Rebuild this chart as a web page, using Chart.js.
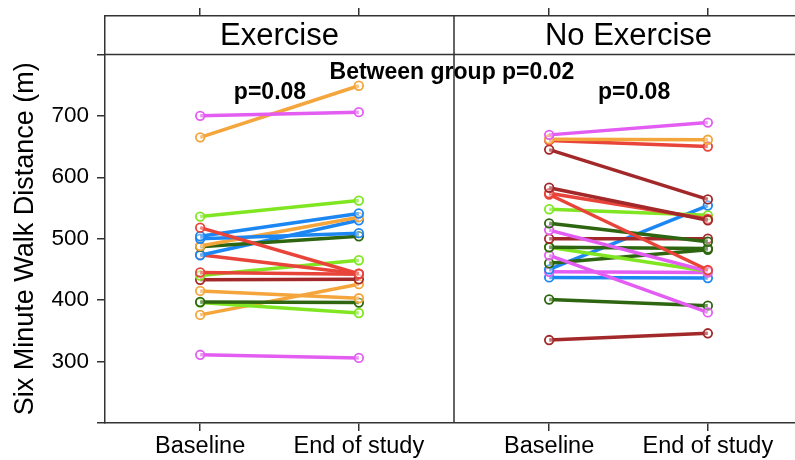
<!DOCTYPE html>
<html>
<head>
<meta charset="utf-8">
<script src="https://cdn.jsdelivr.net/npm/chart.js@4.4.1/dist/chart.umd.min.js"></script>
<style>
html, body { margin: 0; padding: 0; background: #fff; overflow: hidden; }
#wrap { width: 795px; height: 460px; overflow: hidden; }
canvas { display: block; }
</style>
</head>
<body>
<div id="wrap"><canvas id="walkChart" width="810" height="460"></canvas></div>
<script>
const timepoints = ['Baseline', 'End of study'];
const groups = ['Exercise', 'No Exercise'];
const yTitle = 'Six Minute Walk Distance (m)';

// Exercise group: one entry per subject
const exerciseBaseline = [700, 665, 536, 518, 504, 500, 488, 487, 473, 474, 445, 440, 433, 415, 397, 396, 376, 311];
const exerciseEnd      = [706, 749, 562, 443, 541, 509, 535, 504, 530, 443, 442, 465, 434, 403, 396, 379, 426, 306];
const exerciseColors   = ['M', 'O', 'L', 'R', 'B', 'B', 'O', 'G', 'B', 'R', 'R', 'L', 'D', 'O', 'G', 'L', 'O', 'M'];

// No exercise group
const noExerciseBaseline = [669, 662, 660, 645, 583, 574, 572, 548, 525, 514, 500, 486, 486, 473, 460, 450, 446, 437, 401, 335];
const noExerciseEnd      = [689, 661, 650, 564, 530, 532, 449, 538, 495, 447, 500, 484, 447, 380, 482, 554, 445, 436, 391, 346];
const noExerciseColors   = ['M', 'O', 'R', 'D', 'D', 'R', 'R', 'L', 'G', 'M', 'D', 'G', 'L', 'M', 'G', 'B', 'M', 'B', 'G', 'D'];

const yTicks = [200, 300, 400, 500, 600, 700, 800];
const yLabelled = [300, 400, 500, 600, 700];

const annotationTexts = ['p=0.08', 'Between group p=0.02', 'p=0.08'];
const annotationX = [1.44, 2.587, 3.735];
const annotationY = [737, 771, 737];

const palette = {
    M: '#E35DF2',
    O: '#F4A53C',
    L: '#80E622',
    R: '#E9443A',
    B: '#1C87F2',
    G: '#2E6510',
    D: '#A2282A'
};

// lattice-style x positions: panel width 2.2 units
const panelShift = 2.2;
const xTicks = [1, 2, 1 + panelShift, 2 + panelShift];
const xTickLabels = [timepoints[0], timepoints[1], timepoints[0], timepoints[1]];

function makeSets(base, end, cols, shift) {
    return base.map(function (b, i) {
        const c = palette[cols[i]];
        return {
            data: [{ x: 1 + shift, y: b }, { x: 2 + shift, y: end[i] }],
            borderColor: c,
            backgroundColor: 'rgba(255,255,255,0)',
            pointBorderColor: c,
            pointBackgroundColor: 'rgba(255,255,255,0.35)',
            pointRadius: 4.3,
            pointBorderWidth: 1.8,
            borderWidth: 3.5,
            showLine: true
        };
    });
}

const datasets = makeSets(exerciseBaseline, exerciseEnd, exerciseColors, 0)
    .concat(makeSets(noExerciseBaseline, noExerciseEnd, noExerciseColors, panelShift));

const frameColor = '#333';
const font = 'Liberation Sans, Arial, Helvetica, sans-serif';

const stripPlugin = {
    id: 'strips',
    afterDraw: function (chart) {
        const ctx = chart.ctx;
        const area = chart.chartArea;
        const xs = chart.scales.x;
        const ys = chart.scales.y;
        const stripY = ys.getPixelForValue(800);
        const divX = xs.getPixelForValue(0.4 + panelShift);
        ctx.save();
        ctx.strokeStyle = frameColor;
        ctx.lineWidth = 1.5;
        ctx.beginPath();
        ctx.moveTo(area.left, stripY);
        ctx.lineTo(area.right, stripY);
        ctx.moveTo(divX, area.top);
        ctx.lineTo(divX, area.bottom);
        ctx.stroke();

        ctx.fillStyle = '#000';
        ctx.textAlign = 'center';
        ctx.textBaseline = 'middle';
        ctx.font = '31px ' + font;
        const mid = (area.top + stripY) / 2 + 1;
        ctx.fillText(groups[0], (area.left + divX) / 2, mid);
        ctx.fillText(groups[1], (divX + area.right) / 2, mid);

        ctx.font = 'bold 23px ' + font;
        annotationTexts.forEach(function (t, i) {
            ctx.fillText(t, xs.getPixelForValue(annotationX[i]), ys.getPixelForValue(annotationY[i]));
        });

        // y title centred on the panel part below the strips
        ctx.font = '27px ' + font;
        ctx.translate(26, (stripY + area.bottom) / 2);
        ctx.rotate(-Math.PI / 2);
        ctx.fillText(yTitle, 0, 0);
        ctx.restore();
    }
};

const ctx = document.getElementById('walkChart').getContext('2d');
new Chart(ctx, {
    type: 'scatter',
    data: { datasets: datasets },
    options: {
        responsive: false,
        animation: false,
        layout: { padding: { left: 0, right: 7, top: 0, bottom: 0 } },
        plugins: {
            legend: { display: false },
            tooltip: { enabled: false }
        },
        scales: {
            x: {
                type: 'linear',
                position: 'bottom',
                min: 0.4,
                max: 0.4 + 2 * panelShift,
                afterBuildTicks: function (s) { s.ticks = xTicks.map(function (v) { return { value: v }; }); },
                afterFit: function (s) { s.height = 37; s.paddingLeft = 0; s.paddingRight = 0; },
                ticks: {
                    autoSkip: false,
                    maxRotation: 0,
                    padding: 1,
                    color: '#000',
                    font: { family: font, size: 23.5 },
                    callback: function (v, i) { return xTickLabels[i]; }
                },
                grid: { drawOnChartArea: false, tickLength: 8, color: frameColor, lineWidth: 1.5 },
                border: { color: frameColor, width: 1.5 }
            },
            xTop: {
                type: 'linear',
                position: 'top',
                min: 0.4,
                max: 0.4 + 2 * panelShift,
                afterBuildTicks: function (s) { s.ticks = xTicks.map(function (v) { return { value: v }; }); },
                afterFit: function (s) { s.height = 16; s.paddingLeft = 0; s.paddingRight = 0; },
                ticks: { callback: function () { return ''; } },
                grid: { drawOnChartArea: false, tickLength: 8, color: frameColor, lineWidth: 1.5 },
                border: { color: frameColor, width: 1.5 }
            },
            y: {
                min: 200,
                max: 862.5,
                afterBuildTicks: function (s) { s.ticks = yTicks.map(function (v) { return { value: v }; }); },
                afterFit: function (s) { s.width = 105; s.paddingTop = 0; s.paddingBottom = 0; },
                ticks: {
                    padding: 8,
                    color: '#000',
                    font: { family: font, size: 22.5 },
                    callback: function (v) { return yLabelled.indexOf(v) >= 0 ? String(v) : ''; }
                },
                grid: { drawOnChartArea: false, tickLength: 8, color: frameColor, lineWidth: 1.5 },
                border: { color: frameColor, width: 1.5 }
            }
        }
    },
    plugins: [stripPlugin]
});
</script>
</body>
</html>
